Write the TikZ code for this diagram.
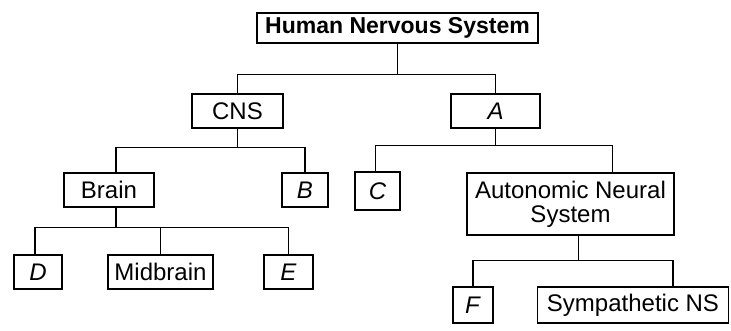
\documentclass[tikz,border=0pt]{standalone}
\usepackage{fontspec}
\setmainfont{Liberation Sans}
\usetikzlibrary{calc}
\tikzset{
  box/.style={draw, line width=1.3pt, inner sep=0pt, align=center, font=\fontsize{24}{24}\selectfont},
  rootbox/.style={box, font=\fontsize{23}{24}\selectfont\bfseries},
  link/.style={line width=1.4pt}
}
\newcommand{\blank}[1]{\textit{#1}}

\begin{document}
\begin{tikzpicture}[x=1pt,y=1pt]
  \useasboundingbox (0,0) rectangle (731,-331);

  % Top level
  \node[rootbox, minimum width=281, minimum height=30] (hns) at (397.5,-28) {Human Nervous System};

  % Second level
  \node[box, minimum width=91, minimum height=34] (cns) at (237.5,-111) {CNS};
  \node[box, minimum width=89, minimum height=34] (a) at (495.5,-111) {\blank{A}};

  % Third level
  \node[box, minimum width=90, minimum height=34] (brain) at (109,-190) {Brain};
  \node[box, minimum width=46, minimum height=34] (b) at (305,-190) {\blank{B}};
  \node[box, minimum width=45, minimum height=38] (c) at (377.5,-191) {\blank{C}};
  \node[box, minimum width=207, minimum height=62] (ans) at (570.5,-204) {Autonomic Neural\\System};

  % Fourth level
  \node[box, minimum width=48, minimum height=34] (d) at (38,-272) {\blank{D}};
  \node[box, minimum width=105, minimum height=34] (mid) at (160.5,-272) {Midbrain};
  \node[box, minimum width=49, minimum height=34] (e) at (288.5,-272) {\blank{E}};
  \node[box, minimum width=40, minimum height=36] (f) at (473,-305) {\blank{F}};
  \node[box, minimum width=191, minimum height=36] (sym) at (633,-305) {Sympathetic NS};

  % Tree links
  \draw[link] (hns.south) -- ++(0,-31) -| (cns.north);
  \draw[link] (hns.south) -- ++(0,-31) -| (a.north);
  \draw[link] (cns.south) -- ++(0,-19) -| ($(brain.north)+(7,0)$);
  \draw[link] (cns.south) -- ++(0,-19) -| (b.north);
  \draw[link] ($(brain.south)+(7,0)$) -- ++(0,-20) -| ($(d.north)+(-3,0)$);
  \draw[link] ($(brain.south)+(7,0)$) -- ++(0,-20) -| (mid.north);
  \draw[link] ($(brain.south)+(7,0)$) -- ++(0,-20) -| (e.north);
  \draw[link] (a.south) -- ++(0,-17) -| ($(c.north)+(-2,0)$);
  \draw[link] (a.south) -- ++(0,-17) -| ($(ans.north)+(42,0)$);
  \draw[link] ($(ans.south)+(8,0)$) -- ++(0,-25) -| (f.north);
  \draw[link] ($(ans.south)+(8,0)$) -- ++(0,-25) -| ($(sym.north)+(40,0)$);
\end{tikzpicture}
\end{document}
